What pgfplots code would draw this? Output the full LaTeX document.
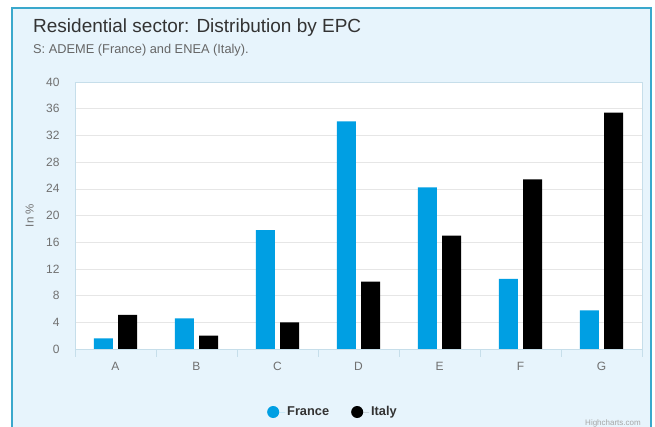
\documentclass[border=0pt]{standalone}
\usepackage{fontspec}
\setmainfont{Liberation Sans}
\usepackage{pgfplots}
\pgfplotsset{compat=1.18}
\definecolor{france}{HTML}{009FE3}
\definecolor{panel}{HTML}{E7F4FC}
\definecolor{panelborder}{HTML}{3AA8CC}
\definecolor{plotborder}{HTML}{C6DEEA}
\definecolor{gridc}{HTML}{E6E6E6}
\definecolor{titlec}{HTML}{333333}
\definecolor{subc}{HTML}{666666}
\definecolor{tickc}{HTML}{707070}

\pgfplotstableread{
x france italy
0 1.6 5.1
1 4.6 2.0
2 17.8 4.0
3 34.1 10.1
4 24.2 17.0
5 10.5 25.4
6 5.8 35.4
}\epcdata

\begin{document}
\begin{tikzpicture}
\begin{scope}[shift={(-75pt,-78pt)}, x=1pt, y=1pt]
\useasboundingbox (0,0) rectangle (655,427);
\begin{scope}
\clip (0,0) rectangle (655,427);
\fill[white] (0,0) rectangle (655,427);
\filldraw[fill=panel, draw=panelborder, line width=1.5pt] (12,-10) rectangle (651,419);
\end{scope}
\node[anchor=base west, inner sep=0pt, font=\fontsize{19}{22}\selectfont, text=titlec] at (33,394.5) {Residential sector: Distribution by EPC};
\node[anchor=base west, inner sep=0pt, font=\fontsize{12.8}{14}\selectfont, text=subc] at (33,373) {S: ADEME (France) and ENEA (Italy).};
\node[anchor=base east, inner sep=0pt, font=\fontsize{8}{9}\selectfont, text=black!35] at (641,1) {Highcharts.com};
\end{scope}
\begin{axis}[
  scale only axis, width=567pt, height=267pt,
  xmin=-0.5, xmax=6.5, ymin=0, ymax=40,
  axis background/.style={fill=white},
  axis line style={draw=plotborder},
  xtick={0,1,2,3,4,5,6},
  xticklabels={A,B,C,D,E,F,G},
  minor xtick={-0.5,0.5,1.5,2.5,3.5,4.5,5.5,6.5},
  ytick={0,4,...,40},
  major tick length=0pt,
  minor tick length=8pt,
  tick align=outside,
  tick pos=bottom,
  minor tick style={draw=plotborder},
  ymajorgrids, grid style={draw=gridc},
  ytick pos=left,
  ticklabel style={font=\fontsize{12}{14}\selectfont, text=tickc},
  xticklabel style={yshift=-10pt},
  yticklabel style={xshift=-12pt},
  /pgf/number format/assume math mode=true,
  ylabel={In \%},
  ylabel style={at={(axis description cs:-0.080,0.5)}, anchor=center, rotate=0, font=\fontsize{11.5}{13}\selectfont, text=tickc},
  ybar, bar width=0.235,
  legend style={at={(axis description cs:0.455,-0.236)}, anchor=center, draw=none, fill=none,
    font=\bfseries\fontsize{12.8}{15}\selectfont, text=titlec,
    /tikz/every even column/.append style={column sep=20pt}},
  legend columns=2,
  legend image code/.code={\fill[#1, draw=none] (6pt,0pt) circle (6pt); \path (0pt,0pt) -- (18pt,0pt);},
]
\addplot[fill=france, draw=none, bar shift=-0.15] table[x=x, y=france] {\epcdata};
\addplot[fill=black, draw=none, bar shift=0.15] table[x=x, y=italy] {\epcdata};
\legend{France, Italy}
\end{axis}
\end{tikzpicture}
\end{document}
